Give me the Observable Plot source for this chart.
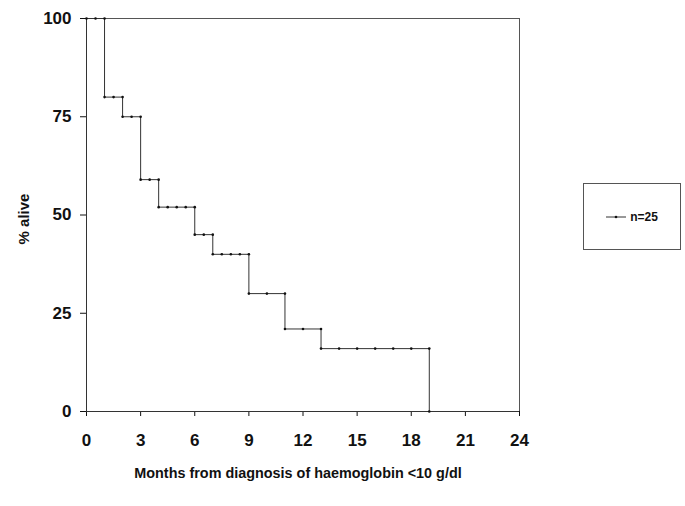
<!DOCTYPE html>
<html>
<head>
<meta charset="utf-8">
<script src="https://cdn.jsdelivr.net/npm/d3@7"></script>
<script src="https://cdn.jsdelivr.net/npm/@observablehq/plot@0.6"></script>
<style>
  html, body { margin: 0; padding: 0; background: #fff; }
  #wrap { position: relative; width: 685px; height: 506px; font-family: "Liberation Sans", Arial, sans-serif; }
  #legend { position: absolute; left: 583px; top: 183px; width: 98px; height: 67px; border: 1px solid #555; box-sizing: border-box; display: flex; align-items: center; justify-content: center; }
  #legend span { font-weight: bold; font-size: 12px; margin-left: 4px; color: #111; }
</style>
</head>
<body>
<div id="wrap"><div id="legend"></div></div>
<script>
// Kaplan-Meier step points (months, % alive)
const months = [0, 0.5, 1, 1, 1.5, 2, 2, 2.5, 3, 3, 3.5, 4, 4, 4.5, 5, 5.5, 6, 6, 6.5, 7, 7, 7.5, 8, 8.5, 9, 9, 10, 11, 11, 12, 13, 13, 14, 15, 16, 17, 18, 19, 19];
const alive  = [100, 100, 100, 80, 80, 80, 75, 75, 75, 59, 59, 59, 52, 52, 52, 52, 52, 45, 45, 45, 40, 40, 40, 40, 40, 30, 30, 30, 21, 21, 21, 16, 16, 16, 16, 16, 16, 16, 0];
const xTicks = [0, 3, 6, 9, 12, 15, 18, 21, 24];
const yTicks = [0, 25, 50, 75, 100];
const seriesLabel = ["n=25"];
const xTitle = "Months from diagnosis of haemoglobin <10 g/dl";
const yTitle = "% alive";

const data = months.map((t, i) => ({t, s: alive[i]}));

const chart = Plot.plot({
  width: 685,
  height: 506,
  marginLeft: 86,
  marginTop: 18,
  marginRight: 166,
  marginBottom: 95,
  style: {fontFamily: "'Liberation Sans', Arial, sans-serif", color: "#111", background: "#fff"},
  x: {domain: [0, 24]},
  y: {domain: [0, 100]},
  marks: [
    Plot.frame({stroke: "#555"}),
    Plot.axisX({ticks: xTicks, tickSize: 5, tickPadding: 17, fontSize: 17, fontWeight: "bold", label: null, tickFormat: d => d}),
    Plot.axisY({ticks: yTicks, tickSize: 6, tickPadding: 9, fontSize: 17, fontWeight: "bold", label: null, tickFormat: d => d}),
    Plot.ruleY([0], {stroke: "#333"}),
    Plot.ruleX([0], {stroke: "#333"}),
    Plot.line(data, {x: "t", y: "s", stroke: "#333", strokeWidth: 1}),
    Plot.dot(data, {x: "t", y: "s", r: 1.3, fill: "#111", stroke: null}),
    Plot.text([xTitle], {frameAnchor: "bottom", dy: 62, dx: -5, fontSize: 14.4, fontWeight: "bold", lineAnchor: "middle", textAnchor: "middle", fill: "#111"}),
    Plot.text([yTitle], {frameAnchor: "left", dx: -62, dy: 4, rotate: -90, fontSize: 15, fontWeight: "bold", lineAnchor: "middle", textAnchor: "middle", fill: "#111"})
  ]
});
document.getElementById("wrap").prepend(chart);

// Legend
const legend = d3.select("#legend");
const ls = legend.append("svg").attr("width", 20).attr("height", 6);
ls.append("line").attr("x1", 0).attr("x2", 20).attr("y1", 3).attr("y2", 3).attr("stroke", "#333");
ls.append("circle").attr("cx", 10).attr("cy", 3).attr("r", 1.3).attr("fill", "#111");
legend.append("span").text(seriesLabel[0]);
</script>
</body>
</html>
